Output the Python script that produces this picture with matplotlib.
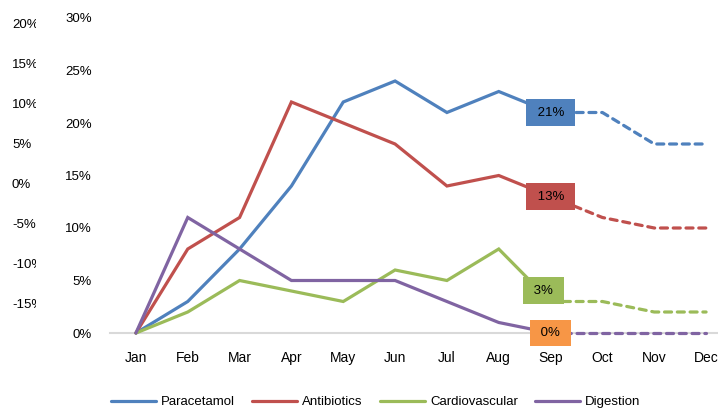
import matplotlib
matplotlib.use("Agg")
import matplotlib.pyplot as plt

# chart data (percent)
months = ["Jan", "Feb", "Mar", "Apr", "May", "Jun", "Jul", "Aug", "Sep", "Oct", "Nov", "Dec"]
series_names = ["Paracetamol", "Antibiotics", "Cardiovascular", "Digestion"]
paracetamol = [0, 3, 8, 14, 22, 24, 21, 23, 21, 21, 18, 18]
antibiotics = [0, 8, 11, 22, 20, 18, 14, 15, 13, 11, 10, 10]
cardiovascular = [0, 2, 5, 4, 3, 6, 5, 8, 3, 3, 2, 2]
digestion = [0, 11, 8, 5, 5, 5, 3, 1, 0, 0, 0, 0]
main_ticks = [0, 5, 10, 15, 20, 25, 30]
ghost_ticks = [20, 15, 10, 5, 0, -5, -10, -15]
split = 8  # Sep: actuals end, forecast (dashed) starts

colors = ["#4F81BD", "#C0504D", "#9BBB59", "#8064A2"]
label_colors = ["#4F81BD", "#C0504D", "#9BBB59", "#F79646"]
label_offsets = [(0, 0), (0, 0), (-7, 11), (0, 0)]

plt.rcParams["font.family"] = ["Liberation Sans", "DejaVu Sans"]

W, H = 718, 408
fig = plt.figure(figsize=(W / 100, H / 100), dpi=100)

# main plot, category axis runs past the right edge of the picture
ax = fig.add_axes([110 / W, 1 - 333 / H, 622 / W, 315 / H])
x = list(range(len(months)))
all_series = [paracetamol, antibiotics, cardiovascular, digestion]
for vals, c, name in zip(all_series, colors, series_names):
    ax.plot(x[:split + 1], vals[:split + 1], color=c, lw=2.3, label=name,
            solid_capstyle="round", solid_joinstyle="miter", zorder=3, clip_on=False)
    ax.plot(x[split:], vals[split:], color=c, lw=2.3, dashes=(2.2, 1.8),
            dash_capstyle="round", zorder=3, clip_on=False)

for vals, c, off in zip(all_series, label_colors, label_offsets):
    ax.annotate(f" {vals[split]}% ", (split, vals[split]), xytext=off,
                textcoords="offset pixels", ha="center", va="center",
                fontsize=9.5, color="black", zorder=5,
                bbox=dict(boxstyle="square,pad=0.55", fc=c, ec="none"))

ax.set_xlim(-0.5, len(months) - 0.5)
ax.set_ylim(0, 30)
ax.set_xticks(x)
ax.set_xticklabels(months, fontsize=10)
ax.set_yticks(main_ticks)
ax.set_yticklabels([f"{t}%" for t in main_ticks], fontsize=9.5)
ax.tick_params(axis="x", length=0, pad=13)
ax.tick_params(axis="y", length=0, pad=13)
for s in ["top", "right", "left"]:
    ax.spines[s].set_visible(False)
ax.spines["bottom"].set_color("#D9D9D9")
ax.spines["bottom"].set_linewidth(1.5)
ax.spines["bottom"].set_zorder(1)

# leftover labels of a second axis, clipped on the right
gax = fig.add_axes([12 / W, 1 - 333 / H, 24 / W, 315 / H])
gax.axis("off")
gax.set_ylim(-18.5, 20.875)
for t in ghost_ticks:
    gax.text(0, t, f"{t}%", ha="left", va="center", fontsize=9.5,
             transform=gax.get_yaxis_transform(), clip_on=True, clip_box=gax.bbox)

fig.legend(loc="lower left", bbox_to_anchor=(99 / W, -12 / H), ncol=4, frameon=False,
           prop={"size": 9.5}, handlelength=3.4, columnspacing=1.3,
           handletextpad=0.4)

fig.savefig("out.png", dpi=100)
